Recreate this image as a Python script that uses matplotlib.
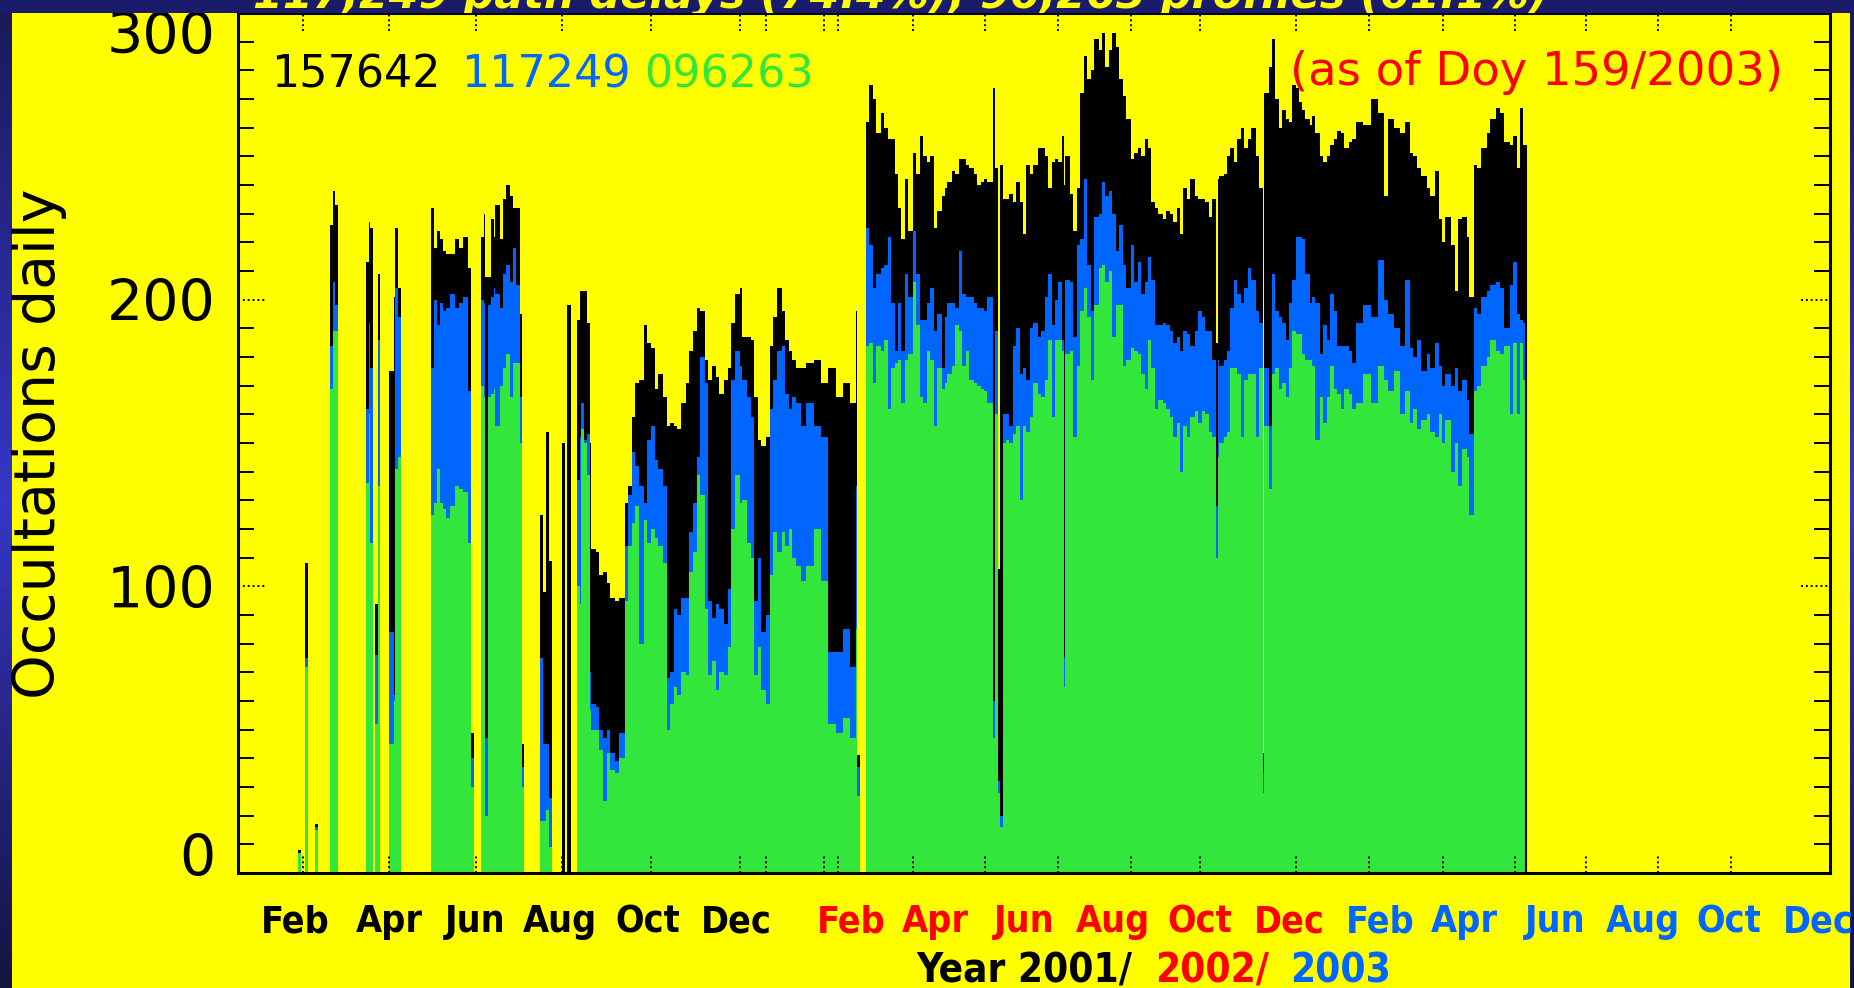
import numpy as np
import matplotlib.pyplot as plt
from matplotlib.colors import LinearSegmentedColormap
from matplotlib.ticker import MultipleLocator
from matplotlib.transforms import blended_transform_factory, ScaledTranslation

# daily occultation counts, day 0 = 1 Jan 2001; each value holds until the next start day
day_start = [41, 43, 46, 48, 53, 55, 63, 65, 67, 69, 88, 90, 91, 93, 94, 96, 98,
             104, 107, 108, 110, 112, 133, 135, 137, 139, 141, 143, 146, 149, 152, 155, 158,
             160, 162, 167, 169, 170, 172, 174, 176, 177, 180, 182, 184, 187, 189, 191, 194,
             195, 197, 208, 210, 212, 214, 216, 223, 225, 226, 229, 233, 235, 236, 238, 240,
             242, 243, 246, 248, 251, 254, 256, 259, 262, 266, 268, 271, 273, 276, 279, 281,
             284, 287, 289, 292, 295, 297, 300, 302, 305, 308, 310, 313, 316, 318, 321, 323,
             326, 329, 331, 334, 337, 339, 342, 345, 347, 350, 353, 355, 358, 360, 363, 366,
             368, 371, 374, 376, 379, 381, 384, 387, 391, 396, 401, 406, 411, 416, 421, 425,
             426, 428, 432, 434, 437, 439, 442, 444, 447, 449, 452, 454, 456, 459, 461, 464,
             466, 469, 471, 474, 476, 479, 481, 484, 486, 488, 491, 493, 496, 498, 501, 503,
             506, 508, 511, 513, 515, 519, 521, 523, 524, 526, 528, 530, 533, 535, 538, 540,
             542, 545, 547, 550, 552, 555, 557, 560, 562, 564, 567, 568, 569, 572, 574, 577,
             579, 582, 584, 587, 589, 592, 594, 596, 599, 601, 604, 606, 609, 611, 614, 616,
             619, 621, 624, 626, 628, 631, 633, 636, 638, 641, 643, 646, 648, 650, 653, 655,
             658, 660, 663, 665, 668, 670, 673, 674, 675, 678, 680, 682, 685, 687, 690, 692,
             695, 697, 700, 702, 705, 706, 709, 711, 713, 716, 718, 721, 723, 725, 728, 730,
             732, 734, 737, 739, 741, 744, 746, 749, 751, 754, 756, 759, 761, 764, 766, 769,
             774, 779, 784, 788, 791, 795, 799, 803, 806, 808, 811, 814, 818, 820, 823, 826,
             828, 830, 834, 837, 839, 842, 845, 847, 850, 852, 855, 859, 861, 865, 868, 871,
             875, 877, 880, 882, 884]
day_end = 886

total = [8, 0, 108, 0, 17, 0, 226, 238, 233, 0, 213, 227, 225, 0, 94, 209, 0,
         175, 201, 225, 204, 0, 232, 218, 224, 221, 217, 216, 216, 221, 218, 222, 211,
         49, 0, 222, 230, 208, 208, 228, 222, 233, 221, 235, 240, 236, 232, 232, 195,
         45, 0, 125, 98, 154, 109, 0, 150, 0, 198, 0, 193, 203, 203, 203, 192,
         150, 113, 112, 104, 105, 101, 96, 95, 96, 129, 135, 159, 171, 172, 191, 185,
         183, 169, 174, 166, 156, 157, 156, 155, 164, 171, 182, 189, 197, 196, 179, 172,
         177, 173, 167, 172, 176, 192, 202, 204, 187, 187, 186, 166, 151, 149, 152, 184,
         194, 204, 196, 186, 182, 179, 176, 176, 178, 179, 171, 176, 166, 171, 164, 196,
         41, 0, 262, 275, 270, 258, 265, 260, 256, 256, 244, 232, 221, 242, 224, 251,
         244, 257, 250, 248, 250, 225, 231, 236, 239, 241, 245, 244, 249, 249, 247, 246,
         244, 240, 241, 242, 241, 274, 246, 106, 247, 235, 235, 237, 234, 241, 234, 223,
         247, 244, 247, 253, 253, 250, 239, 248, 249, 248, 257, 240, 250, 237, 224, 239,
         272, 285, 277, 280, 291, 287, 293, 281, 287, 293, 288, 277, 271, 263, 249, 251,
         253, 250, 256, 253, 234, 232, 230, 228, 231, 230, 227, 232, 223, 239, 235, 242,
         236, 235, 235, 234, 229, 235, 185, 242, 243, 244, 250, 253, 248, 256, 260, 253,
         256, 260, 250, 239, 42, 272, 281, 291, 270, 260, 266, 263, 262, 275, 274, 269,
         266, 263, 261, 264, 258, 250, 248, 250, 254, 256, 259, 258, 253, 255, 256, 262,
         261, 270, 265, 236, 263, 260, 258, 262, 251, 250, 246, 243, 239, 236, 245, 228,
         220, 229, 219, 203, 228, 229, 222, 201, 247, 246, 253, 258, 263, 267, 265, 255,
         254, 257, 246, 267, 254]

blue = [7, 0, 75, 0, 16, 0, 184, 206, 198, 0, 162, 192, 176, 0, 76, 186, 0,
        84, 62, 204, 194, 0, 176, 200, 191, 199, 196, 197, 202, 197, 199, 201, 168,
        40, 0, 200, 199, 47, 198, 201, 204, 202, 197, 209, 212, 206, 218, 205, 166,
        37, 0, 75, 45, 45, 26, 0, 0, 0, 0, 0, 137, 152, 164, 151, 153,
        70, 59, 58, 50, 47, 50, 42, 39, 49, 114, 132, 147, 142, 135, 129, 151,
        156, 144, 141, 135, 68, 70, 92, 90, 96, 96, 119, 129, 145, 180, 171, 95,
        89, 94, 92, 87, 99, 172, 182, 177, 172, 166, 159, 95, 110, 84, 90, 162,
        172, 182, 184, 167, 162, 166, 164, 156, 164, 156, 152, 77, 77, 85, 72, 135,
        37, 0, 225, 219, 204, 209, 211, 212, 222, 199, 182, 199, 182, 209, 201, 224,
        209, 193, 193, 199, 204, 189, 195, 176, 194, 199, 199, 197, 217, 202, 201, 201,
        199, 197, 197, 196, 201, 60, 189, 32, 20, 160, 160, 156, 184, 190, 174, 176,
        172, 190, 192, 187, 189, 201, 209, 191, 200, 206, 186, 75, 207, 206, 187, 219,
        221, 242, 212, 196, 229, 230, 241, 236, 238, 230, 217, 226, 212, 204, 219, 206,
        213, 202, 206, 215, 207, 191, 191, 192, 191, 189, 185, 187, 182, 189, 188, 184,
        189, 196, 194, 189, 189, 179, 128, 179, 177, 179, 182, 197, 207, 202, 199, 204,
        211, 207, 196, 192, 35, 176, 156, 209, 196, 194, 192, 186, 199, 207, 222, 222,
        221, 209, 199, 201, 199, 181, 191, 186, 202, 196, 184, 184, 184, 182, 178, 192,
        198, 194, 214, 200, 195, 190, 184, 207, 183, 180, 186, 175, 181, 176, 185, 177,
        170, 174, 170, 176, 168, 172, 165, 153, 197, 195, 201, 203, 205, 206, 204, 190,
        205, 213, 195, 193, 192]

green = [7, 0, 72, 0, 15, 0, 169, 189, 189, 0, 136, 160, 115, 0, 52, 135, 0,
         45, 60, 141, 145, 0, 125, 129, 141, 129, 127, 124, 128, 135, 134, 133, 115,
         30, 0, 170, 166, 20, 166, 167, 169, 156, 170, 176, 181, 166, 178, 178, 150,
         30, 0, 18, 18, 22, 9, 0, 0, 0, 0, 0, 100, 94, 155, 150, 139,
         57, 50, 50, 43, 25, 42, 36, 35, 40, 95, 114, 122, 128, 80, 123, 115,
         120, 117, 114, 108, 50, 59, 65, 62, 70, 69, 105, 112, 139, 132, 92, 69,
         74, 64, 70, 69, 79, 120, 139, 129, 130, 115, 110, 69, 79, 64, 59, 104,
         119, 112, 119, 114, 120, 110, 107, 102, 107, 120, 102, 52, 49, 54, 47, 85,
         27, 0, 184, 185, 171, 184, 182, 186, 162, 176, 178, 179, 164, 179, 181, 206,
         191, 166, 164, 182, 179, 156, 176, 169, 171, 174, 177, 191, 189, 177, 182, 172,
         171, 170, 169, 168, 164, 47, 160, 28, 16, 150, 151, 150, 153, 156, 130, 156,
         154, 159, 171, 167, 166, 172, 186, 159, 186, 186, 182, 65, 181, 182, 152, 177,
         196, 204, 194, 172, 198, 211, 212, 206, 210, 187, 198, 198, 177, 179, 183, 182,
         181, 174, 169, 186, 176, 162, 165, 164, 162, 159, 152, 157, 140, 156, 152, 159,
         161, 157, 161, 160, 154, 152, 110, 145, 150, 152, 154, 176, 176, 174, 152, 172,
         174, 174, 152, 176, 28, 156, 134, 174, 176, 169, 171, 166, 176, 189, 188, 188,
         181, 179, 179, 177, 151, 166, 157, 166, 177, 169, 167, 162, 169, 167, 162, 164,
         174, 164, 177, 172, 168, 175, 160, 168, 157, 162, 155, 158, 160, 154, 152, 160,
         150, 158, 140, 150, 135, 148, 145, 125, 168, 170, 177, 180, 186, 182, 181, 184,
         160, 185, 160, 185, 172]

series_totals = ['157642', '117249', '096263']
year_labels = ['2001', '2002', '2003']
month_labels = ['Feb', 'Apr', 'Jun', 'Aug', 'Oct', 'Dec']
xtick_days = [45, 104, 164, 223, 284, 345, 363, 403, 413, 464, 514, 564, 614, 662,
              728, 778, 829, 878, 927, 977, 1027]

YELLOW = '#ffff00'
BLUE = '#0066ff'
GREEN = '#32e63c'
RED = '#ff0000'
NAVY = '#1b1b6b'

W, H = 1854, 988
fig = plt.figure(figsize=(W / 100, H / 100), dpi=100, facecolor=YELLOW)


def fx(px):
    return px / W


def fy(py):
    return 1 - py / H


ax = fig.add_axes([fx(238), fy(873), fx(1830) - fx(238), fy(13) - fy(873)])
ax.set_facecolor(YELLOW)

edges = day_start + [day_end]
ax.stairs(total, edges, fill=True, color='black', lw=0)
ax.stairs(blue, edges, fill=True, color=BLUE, lw=0)
ax.stairs(green, edges, fill=True, color=GREEN, lw=0)
ax.vlines(day_end, 0, total[-1], color='black', lw=1.5)

ax.set_xlim(0, 1095)
ax.set_ylim(0, 300)
for s in ax.spines.values():
    s.set_linewidth(2.2)

# y axis: labels, minor ticks every 10, dotted major marks
ax.set_yticks([0, 100, 200, 300], ['0', '100', '200', '300'])
ax.yaxis.set_minor_locator(MultipleLocator(10))
ax.tick_params(axis='y', which='major', length=0, pad=16, labelsize=41)
ax.tick_params(axis='y', which='minor', direction='in', length=11.5, width=1.4,
               left=True, right=True)
ax.set_xticks([])
labs = ax.get_yticklabels()
labs[0].set_transform(labs[0].get_transform() + ScaledTranslation(0, 0.19, fig.dpi_scale_trans))
labs[-1].set_transform(labs[-1].get_transform() + ScaledTranslation(0, -0.19, fig.dpi_scale_trans))

ytr = blended_transform_factory(ax.transAxes, ax.transData)
for v in [100, 200]:
    ax.plot([0, 0.018], [v, v], transform=ytr, color='black', lw=1.4, ls=(0, (1, 1.5)))
    ax.plot([0.982, 1], [v, v], transform=ytr, color='black', lw=1.4, ls=(0, (1, 1.5)))

xtr = blended_transform_factory(ax.transData, ax.transAxes)
ax.vlines(xtick_days, 0, 0.021, transform=xtr, color='black', lw=1.4, ls=(0, (1, 1.5)))
ax.vlines(xtick_days, 0.979, 1, transform=xtr, color='black', lw=1.4, ls=(0, (1, 1.5)))

fig.text(fx(40), fy(444), 'Occultations daily', rotation=90, ha='center', va='center',
         fontsize=41)

# totals in the top-left corner and date stamp
for txt, x0, c in zip(series_totals, [271, 461, 644], ['black', BLUE, GREEN]):
    fig.text(fx(x0), fy(87), txt, color=c, fontsize=32, ha='left', va='baseline')
fig.text(fx(1290), fy(85), '(as of Doy 159/2003)', color=RED, fontsize=33.5,
         ha='left', va='baseline')

# month labels for each year
lab_font = dict(fontweight='bold', fontstretch='condensed')
month_x = [[295, 389, 475, 560, 648, 736],
           [851, 935, 1024, 1113, 1200, 1289],
           [1380, 1464, 1555, 1643, 1729, 1818]]
for row, c in zip(month_x, ['black', RED, BLUE]):
    for x0, m in zip(row, month_labels):
        fig.text(fx(x0), fy(932), m, color=c, fontsize=27, ha='center', va='baseline',
                 **lab_font)

fig.text(fx(916), fy(982), 'Year ' + year_labels[0] + '/', fontsize=29, ha='left',
         va='baseline', **lab_font)
fig.text(fx(1155), fy(982), year_labels[1] + '/', color=RED, fontsize=29, ha='left',
         va='baseline', **lab_font)
fig.text(fx(1290), fy(982), year_labels[2], color=BLUE, fontsize=29, ha='left',
         va='baseline', **lab_font)

# slide frame: navy band with the cut-off headline and side strips
band = fig.add_axes([0, fy(13), 1, 13 / H])
band.set_facecolor(NAVY)
band.set_xticks([])
band.set_yticks([])
for s in band.spines.values():
    s.set_visible(False)
band.text(0.486, 0.4, '117,249 path delays (74.4%), 96,263 profiles (61.1%)',
          transform=band.transAxes, ha='center', va='baseline', color=YELLOW,
          fontsize=31, fontweight='bold', fontstyle='italic', clip_on=True)

grad = LinearSegmentedColormap.from_list('frame', ['#1a1a5a', '#3636c8', '#141440'])
for x0, w in [(0, 12), (1850, 4)]:
    side = fig.add_axes([fx(x0), 0, w / W, fy(13)])
    side.imshow(np.linspace(0, 1, 256)[:, None], cmap=grad, aspect='auto')
    side.set_axis_off()

fig.savefig('out.png', dpi=100, facecolor=YELLOW)
